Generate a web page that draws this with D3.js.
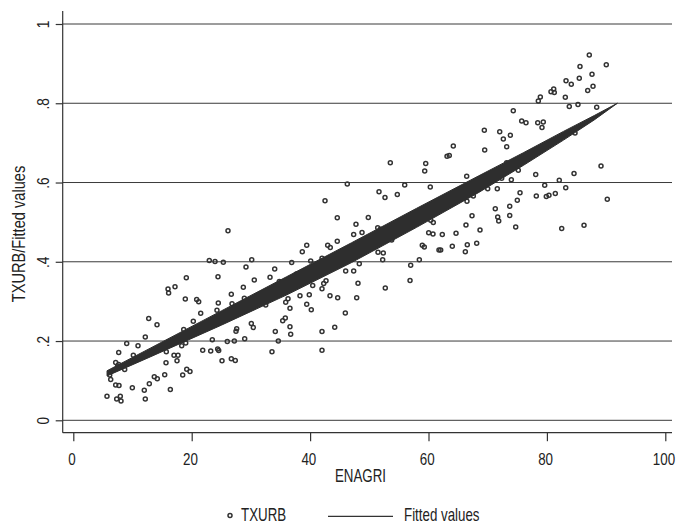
<!DOCTYPE html>
<html><head><meta charset="utf-8">
<script src="https://cdn.jsdelivr.net/npm/d3@7"></script>
<style>
body{margin:0;background:#fff}
svg text{font-family:"Liberation Sans Narrow","Arial Narrow","Liberation Sans",Arial,sans-serif;fill:#222}
</style></head><body>
<svg id="c" width="676" height="523"></svg>
<script>
// ---- data ----
const enagri = [22.97,23.94,25.34,19.09,24.44,17.18,16.0,16.1,18.92,20.84,21.18,24.49,24.27,21.52,12.74,14.14,20.27,18.65,12.16,23.48,9.02,10.93,18.31,18.99,16.11,21.86,23.21,24.39,24.56,7.67,10.14,15.71,17.01,17.69,17.52,15.66,25.12,7.16,7.67,7.5,8.68,19.16,19.71,6.15,6.32,15.44,13.68,14.19,18.48,12.84,7.16,7.72,9.97,11.99,16.39,5.69,7.94,7.33,8.06,12.16,
26.13,30.14,29.17,36.89,38.68,39.43,40.1,42.01,42.97,43.41,44.59,43.92,47.36,34.02,33.23,34.8,35.08,37.67,30.57,28.72,31.71,26.69,28.89,26.81,32.5,36.27,35.88,36.6,38.29,39.86,39.43,40.2,40.44,42.01,42.3,42.69,43.36,44.66,46.01,47.36,45.95,35.81,35.37,30.07,30.41,27.6,27.48,34.12,36.6,36.72,42.01,44.16,26.01,27.2,28.95,34.63,33.56,42.01,26.69,27.36,42.52,44.59,
53.55,59.53,59.36,55.98,60.3,66.45,51.64,52.65,54.73,66.5,67.57,47.75,48.77,49.83,51.42,51.86,53.78,60.37,60.81,60.03,60.76,62.33,64.65,66.33,67.35,68.7,51.47,52.36,52.26,58.95,59.29,61.77,62.06,64.02,66.55,66.22,68.14,58.45,56.99,48.31,56.88,48.09,52.7,47.87,46.28,64.19,63.13,63.51,
87.16,85.59,90.03,87.62,83.23,84.12,85.47,87.79,86.89,80.69,81.15,81.25,78.89,78.55,83.11,83.78,85.25,88.41,74.32,75.74,76.47,78.45,79.39,79.17,69.43,72.03,73.82,72.64,73.21,69.49,84.75,89.14,75.17,78.11,84.58,73.99,72.36,82.09,79.63,83.18,70.0,71.62,75.46,75.0,78.21,79.9,80.35,81.42,90.2,73.72,73.72,71.28,71.69,71.86,74.73,82.5,86.27,73.2];
const txurb = [0.403,0.401,0.399,0.360,0.362,0.337,0.331,0.321,0.306,0.305,0.299,0.296,0.278,0.270,0.257,0.241,0.250,0.229,0.210,0.203,0.194,0.188,0.188,0.195,0.198,0.177,0.175,0.180,0.176,0.171,0.164,0.173,0.164,0.164,0.150,0.145,0.150,0.146,0.141,0.137,0.128,0.129,0.123,0.114,0.103,0.115,0.110,0.105,0.114,0.092,0.089,0.088,0.082,0.076,0.078,0.061,0.061,0.054,0.049,0.054,
0.478,0.405,0.387,0.398,0.425,0.442,0.402,0.409,0.442,0.436,0.452,0.415,0.469,0.382,0.361,0.350,0.348,0.369,0.354,0.336,0.320,0.318,0.308,0.294,0.291,0.307,0.298,0.283,0.314,0.317,0.293,0.279,0.340,0.332,0.345,0.352,0.314,0.309,0.377,0.377,0.271,0.258,0.251,0.244,0.234,0.231,0.225,0.224,0.236,0.217,0.224,0.235,0.199,0.200,0.206,0.200,0.173,0.177,0.155,0.151,0.554,0.511,
0.650,0.648,0.629,0.594,0.589,0.616,0.577,0.562,0.570,0.553,0.566,0.495,0.474,0.512,0.486,0.482,0.455,0.505,0.499,0.473,0.470,0.469,0.472,0.493,0.516,0.480,0.424,0.422,0.405,0.442,0.437,0.430,0.430,0.439,0.443,0.425,0.447,0.405,0.391,0.395,0.353,0.346,0.334,0.309,0.596,0.692,0.666,0.668,
0.922,0.893,0.897,0.873,0.857,0.848,0.863,0.843,0.832,0.829,0.836,0.827,0.816,0.806,0.815,0.792,0.797,0.790,0.781,0.755,0.751,0.751,0.753,0.739,0.732,0.728,0.719,0.710,0.690,0.682,0.725,0.642,0.631,0.620,0.623,0.607,0.611,0.606,0.593,0.587,0.584,0.584,0.574,0.555,0.566,0.565,0.568,0.572,0.558,0.540,0.517,0.534,0.513,0.503,0.488,0.484,0.492,0.650];
// fitted values band (upper and lower envelope of the plotted fitted line)
const fitX     = [5.7,  13,   25,   36,   47,   58,   68.5, 76,   82.8, 88,   91.9];
const fitUpper = [0.125,0.182,0.276,0.362,0.448,0.535,0.617,0.675,0.729,0.769,0.800];
const fitLower = [0.112,0.160,0.240,0.316,0.398,0.487,0.575,0.643,0.707,0.758,0.800];
const xTicks = [0,20,40,60,80,100];
const yTicks = [0,0.2,0.4,0.6,0.8,1];
const yTickLabels = ["0",".2",".4",".6",".8","1"];
const xTitle = "ENAGRI";
const yTitle = "TXURB/Fitted values";
const legendLabels = ["TXURB","Fitted values"];

// ---- layout ----
const svg = d3.select("#c");
const L = 62.7, R = 672, T = 11, B = 432.7;
const ink = "#333";
const x = d3.scaleLinear().domain([0,100]).range([73.3,665.3]);
const y = d3.scaleLinear().domain([0,1]).range([420.3,24]);
const tickFont = "16.3px", titleFont = "18.5px";
function condense(sel, ratio){
  sel.each(function(){
    const w = this.getComputedTextLength();
    this.setAttribute("textLength", (w*ratio).toFixed(2));
    this.setAttribute("lengthAdjust","spacingAndGlyphs");
  });
}

// gridlines
svg.append("g").selectAll("line").data(yTicks).join("line")
  .attr("x1",L).attr("x2",R).attr("y1",d=>y(d)).attr("y2",d=>y(d))
  .attr("stroke","#3a3a3a").attr("stroke-width",1);

// axes lines
svg.append("line").attr("x1",L).attr("x2",L).attr("y1",T).attr("y2",B).attr("stroke",ink).attr("stroke-width",1.2);
svg.append("line").attr("x1",L).attr("x2",R).attr("y1",B).attr("y2",B).attr("stroke",ink).attr("stroke-width",1.2);

// y axis
const ya = svg.append("g").attr("transform",`translate(${L},0)`)
  .call(d3.axisLeft(y).tickValues(yTicks).tickSize(7).tickFormat((d,i)=>yTickLabels[i]));
ya.select(".domain").remove();
ya.selectAll("line").attr("stroke",ink).attr("stroke-width",1.2);
ya.selectAll("text").attr("transform","rotate(-90)").attr("x",0).attr("y",-14.2).attr("dy",0)
  .attr("text-anchor","middle").style("font-size",tickFont).attr("fill","#222")
  .call(condense,0.84);

// x axis
const xa = svg.append("g").attr("transform",`translate(0,${B})`)
  .call(d3.axisBottom(x).tickValues(xTicks).tickSize(8.5).tickFormat(d3.format("d")));
xa.select(".domain").remove();
xa.selectAll("line").attr("stroke",ink).attr("stroke-width",1.2);
xa.selectAll("text").attr("x",-1.8).attr("y",32).attr("dy",0).style("font-size",tickFont).attr("fill","#222")
  .call(condense,0.82);

// titles
svg.append("text").attr("x",360.5).attr("y",481.5).attr("text-anchor","middle")
  .style("font-size",titleFont).text(xTitle).call(condense,0.72);
svg.append("text").attr("transform",`translate(25,234) rotate(-90)`).attr("text-anchor","middle")
  .style("font-size",titleFont).text(yTitle).call(condense,0.79);

// points
svg.append("g").selectAll("circle").data(enagri.map((v,i)=>[v,txurb[i]])).join("circle")
  .attr("cx",d=>x(d[0])).attr("cy",d=>y(d[1])).attr("r",2)
  .attr("fill","none").attr("stroke",ink).attr("stroke-width",1.5);

// fitted band
const band = fitX.map((v,i)=>({x:v,hi:fitUpper[i],lo:fitLower[i]}));
svg.append("path").datum(band)
  .attr("d",d3.area().x(d=>x(d.x)).y0(d=>y(d.lo)).y1(d=>y(d.hi)))
  .attr("fill","#2e2e2e").attr("stroke","#2e2e2e").attr("stroke-width",1);

// legend
const lg = svg.append("g");
lg.append("circle").attr("cx",230).attr("cy",515.5).attr("r",2).attr("fill","none").attr("stroke",ink).attr("stroke-width",1.5);
lg.append("text").attr("x",241).attr("y",520.5).style("font-size",titleFont).text(legendLabels[0]).call(condense,0.72);
lg.append("line").attr("x1",328).attr("x2",393).attr("y1",516.3).attr("y2",516.3).attr("stroke",ink).attr("stroke-width",1.2);
lg.append("text").attr("x",404).attr("y",520.5).style("font-size",titleFont).text(legendLabels[1]).call(condense,0.72);
</script>
</body></html>
